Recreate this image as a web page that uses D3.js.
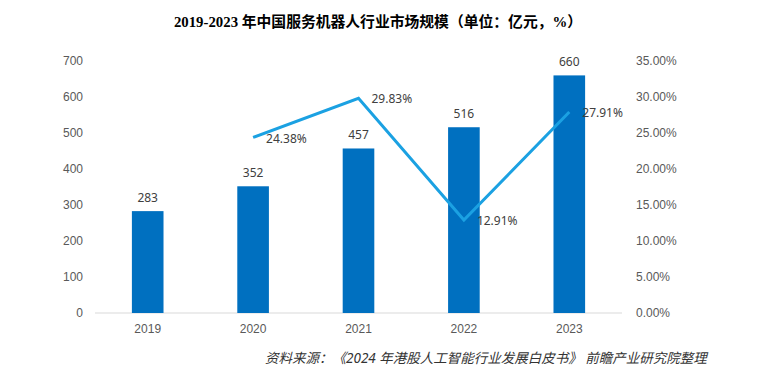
<!DOCTYPE html>
<html>
<head>
<meta charset="utf-8">
<script src="https://cdn.jsdelivr.net/npm/d3@7"></script>
<style>
  body { margin: 0; background: #fff; }
  svg { display: block; }
</style>
</head>
<body>
<div id="chart"></div>
<script>
// data
const years = ["2019", "2020", "2021", "2022", "2023"];
const marketSize = [283, 352, 457, 516, 660];
const growthYears = ["2020", "2021", "2022", "2023"];
const growthRate = [24.38, 29.83, 12.91, 27.91];
const leftTicks = [0, 100, 200, 300, 400, 500, 600, 700];
const rightTicks = [0, 5, 10, 15, 20, 25, 30, 35];

const width = 760;
const height = 375;
const margin = { top: 61, right: 138, bottom: 62, left: 95 };

const svg = d3.select("#chart")
  .append("svg")
  .attr("width", width)
  .attr("height", height)
  .style("font-family", "'Noto Sans', 'Noto Sans CJK SC', sans-serif");

// scales
const x = d3.scaleBand()
  .domain(years)
  .range([margin.left, width - margin.right])
  .paddingInner(0.7)
  .paddingOuter(0.35);

const y = d3.scaleLinear()
  .domain([0, 700])
  .range([height - margin.bottom, margin.top]);

const y2 = d3.scaleLinear()
  .domain([0, 35])
  .range([height - margin.bottom, margin.top]);

const textColor = "#595959";

// baseline
svg.append("line")
  .attr("x1", margin.left)
  .attr("x2", width - margin.right)
  .attr("y1", y(0))
  .attr("y2", y(0))
  .attr("stroke", "#d9d9d9")
  .attr("stroke-width", 1);

// left axis
const yAxis = svg.append("g")
  .attr("transform", `translate(${margin.left - 12},0)`)
  .call(d3.axisLeft(y).tickValues(leftTicks).tickSize(0).tickPadding(0));
yAxis.select(".domain").remove();
yAxis.selectAll("text").attr("fill", textColor).style("font-size", "12px");

// right axis
const y2Axis = svg.append("g")
  .attr("transform", `translate(${width - margin.right + 14},0)`)
  .call(d3.axisRight(y2).tickValues(rightTicks).tickSize(0).tickPadding(0)
    .tickFormat(d => d.toFixed(2) + "%"));
y2Axis.select(".domain").remove();
y2Axis.selectAll("text").attr("fill", textColor).style("font-size", "12px");

// x axis
const xAxis = svg.append("g")
  .attr("transform", `translate(0,${y(0)})`)
  .call(d3.axisBottom(x).tickSize(0).tickPadding(11));
xAxis.select(".domain").remove();
xAxis.selectAll("text").attr("fill", textColor).style("font-size", "12px");

// bars
svg.selectAll(".bar")
  .data(marketSize)
  .enter()
  .append("rect")
  .attr("class", "bar")
  .attr("x", (d, i) => x(years[i]))
  .attr("y", d => y(d))
  .attr("width", x.bandwidth())
  .attr("height", d => y(0) - y(d))
  .attr("fill", "#0070c0");

svg.selectAll(".bar-label")
  .data(marketSize)
  .enter()
  .append("text")
  .attr("x", (d, i) => x(years[i]) + x.bandwidth() / 2)
  .attr("y", d => y(d) - 9)
  .attr("text-anchor", "middle")
  .attr("fill", "#404040")
  .style("font-size", "12px")
  .text(d => d);

// growth line
const line = d3.line()
  .x((d, i) => x(growthYears[i]) + x.bandwidth() / 2)
  .y(d => y2(d));

svg.append("path")
  .datum(growthRate)
  .attr("d", line)
  .attr("fill", "none")
  .attr("stroke", "#1ba1e2")
  .attr("stroke-width", 3)
  .attr("stroke-linejoin", "miter");

svg.selectAll(".line-label")
  .data(growthRate)
  .enter()
  .append("text")
  .attr("x", (d, i) => x(growthYears[i]) + x.bandwidth() / 2 + 13)
  .attr("y", d => y2(d) + 1)
  .attr("dy", "0.35em")
  .attr("fill", "#404040")
  .style("font-size", "12px")
  .text(d => d.toFixed(2) + "%");

// title
svg.append("text")
  .attr("x", 378)
  .attr("y", 27)
  .attr("text-anchor", "middle")
  .attr("fill", "#000")
  .style("font-family", "'Liberation Serif', 'Noto Sans CJK SC', serif")
  .style("font-weight", "bold")
  .style("font-size", "14.8px")
  .text("2019-2023 年中国服务机器人行业市场规模（单位：亿元，%）");

// source
svg.append("text")
  .attr("x", 265)
  .attr("y", 363)
  .attr("fill", "#333")
  .style("font-style", "italic")
  .style("font-size", "13.5px")
  .text("资料来源：《2024 年港股人工智能行业发展白皮书》 前瞻产业研究院整理");
</script>
</body>
</html>
